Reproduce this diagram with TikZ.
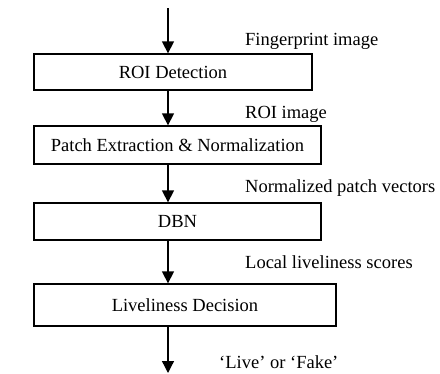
\documentclass[tikz,border=0pt]{standalone}
\usepackage{fontspec}
\setmainfont{Liberation Serif}
\usetikzlibrary{arrows.meta}
\begin{document}
\begin{tikzpicture}[x=1pt,y=-1pt,
  blk/.style={draw,line width=1.3pt,inner sep=0pt,font=\fontsize{18.5}{21}\selectfont},
  lbl/.style={font=\fontsize{18.5}{21}\selectfont,anchor=west,inner sep=0pt},
  arr/.style={line width=1.3pt,-{Triangle[width=12pt,length=12pt]}}]
\useasboundingbox (0,0) rectangle (440,373);
\node[blk,minimum width=278pt,minimum height=36pt] (roi) at (173,72) {ROI Detection};
\node[blk,minimum width=287pt,minimum height=38pt] (patch) at (177.5,145) {Patch Extraction \& Normalization};
\node[blk,minimum width=287pt,minimum height=37pt] (dbn) at (177.5,221.5) {DBN};
\node[blk,minimum width=302pt,minimum height=42pt] (dec) at (185,305) {Liveliness Decision};
\coordinate (start) at (168,8);
\coordinate (end) at (168,373);
\draw[arr] (start) -- (start |- roi.north);
\draw[arr] (start |- roi.south) -- (start |- patch.north);
\draw[arr] (start |- patch.south) -- (start |- dbn.north);
\draw[arr] (start |- dbn.south) -- (start |- dec.north);
\draw[arr] (start |- dec.south) -- (end);
\node[lbl] (l1) at (245,41) {Fingerprint image};
\node[lbl] (l2) at (245,114) {ROI image};
\node[lbl] (l3) at (245,188) {Normalized patch vectors};
\node[lbl] (l4) at (245,262) {Local liveliness scores};
\node[lbl] (l5) at (219,362) {‘Live’ or ‘Fake’};
\end{tikzpicture}
\end{document}
